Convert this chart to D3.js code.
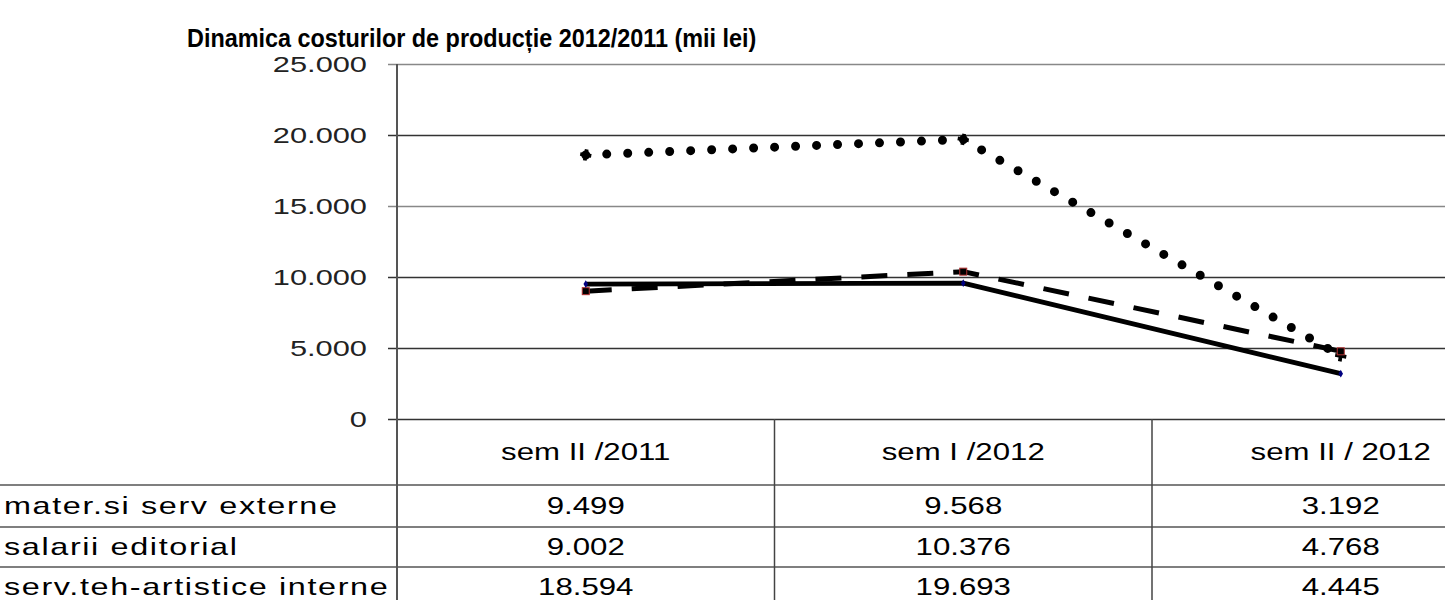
<!DOCTYPE html>
<html>
<head>
<meta charset="utf-8">
<script src="https://cdn.jsdelivr.net/npm/d3@7"></script>
<style>
  body { margin: 0; background: #fff; }
  svg { display: block; font-family: "Liberation Sans", Arial, sans-serif; }
</style>
</head>
<body>
<div id="chart"></div>
<script>
// Date
const categories = ["sem II /2011", "sem I /2012", "sem II / 2012"];
const seriesNames = ["mater.si serv externe", "salarii editorial", "serv.teh-artistice interne"];
const materValues = [9499, 9568, 3192];
const salariiValues = [9002, 10376, 4768];
const servValues = [18594, 19693, 4445];
const yTicks = [0, 5000, 10000, 15000, 20000, 25000];
const titleText = "Dinamica costurilor de producție 2012/2011 (mii lei)";

const series = [
  { name: seriesNames[0], values: materValues, dash: null, width: 4.8, cap: "butt", marker: "diamond" },
  { name: seriesNames[1], values: salariiValues, dash: "26,20", width: 5, cap: "butt", marker: "square" },
  { name: seriesNames[2], values: servValues, dash: "0,21", width: 9, cap: "round", marker: "cross" }
];

// Dimensiuni
const W = 1445, H = 600;
const plotLeft = 397, colW = 377.5;
const plotTop = 64, plotBottom = 419;
const rowLines = [485, 527, 567, 607];

const ro = d3.formatLocale({ decimal: ",", thousands: ".", grouping: [3], currency: ["", ""] });
const fmt = ro.format(",d");

const svg = d3.select("#chart").append("svg")
  .attr("width", W).attr("height", H);

const x = d3.scaleBand()
  .domain(categories)
  .range([plotLeft, plotLeft + colW * categories.length])
  .padding(0);
const cx = c => x(c) + x.bandwidth() / 2;

const y = d3.scaleLinear()
  .domain([0, 25000])
  .range([plotBottom, plotTop]);

// text intins pe orizontala
function label(sel, px, py, s, anchor, size, sx) {
  return sel.append("text")
    .attr("transform", `translate(${px},${py}) scale(${sx},1)`)
    .attr("text-anchor", anchor)
    .attr("dy", "0.35em")
    .style("font-size", size + "px")
    .attr("fill", "#000")
    .text(s);
}

// Titlu
svg.append("text")
  .attr("transform", "translate(187,47) scale(0.9,1)")
  .style("font-size", "26px")
  .style("font-weight", "bold")
  .text(titleText);

// Grila si axa Y
const yAxis = svg.append("g")
  .attr("transform", `translate(${plotLeft},0)`)
  .call(d3.axisLeft(y).tickValues(yTicks).tickSize(W).tickFormat(""));
yAxis.select(".domain").remove();
yAxis.selectAll(".tick line")
  .attr("x1", -9).attr("x2", W)
  .attr("stroke", d => (d === 25000 || d === 15000) ? "#888" : "#333")
  .attr("stroke-width", 1.4);

yTicks.forEach(t => {
  label(svg, 367, y(t), fmt(t), "end", 22, 1.4).attr("fill", "#222");
});

// Axa verticala stanga
svg.append("line")
  .attr("x1", plotLeft).attr("x2", plotLeft)
  .attr("y1", plotTop).attr("y2", H)
  .attr("stroke", "#555").attr("stroke-width", 2);

// Tabel de date
rowLines.forEach(ry => {
  svg.append("line")
    .attr("x1", 0).attr("x2", W)
    .attr("y1", ry).attr("y2", ry)
    .attr("stroke", "#555").attr("stroke-width", 1.5);
});
categories.forEach((c, i) => {
  if (i > 0) {
    svg.append("line")
      .attr("x1", x(c)).attr("x2", x(c))
      .attr("y1", plotBottom).attr("y2", H)
      .attr("stroke", "#444").attr("stroke-width", 1.5);
  }
  label(svg, cx(c), (plotBottom + rowLines[0]) / 2, c, "middle", 24, 1.3);
});
series.forEach((s, si) => {
  const rowMid = (rowLines[si] + rowLines[si + 1]) / 2;
  label(svg, 4, rowMid, s.name, "start", 24, 1.35).style("letter-spacing", "1.2px");
  s.values.forEach((v, i) => {
    label(svg, cx(categories[i]), rowMid, fmt(v), "middle", 24, 1.3);
  });
});

// Linii
const line = d3.line()
  .x((d, i) => cx(categories[i]))
  .y(d => y(d));

series.slice().reverse().forEach(s => {
  svg.append("path")
    .datum(s.values)
    .attr("fill", "none")
    .attr("stroke", "#000")
    .attr("stroke-width", s.width)
    .attr("stroke-linecap", s.cap)
    .attr("stroke-linejoin", "round")
    .attr("stroke-dasharray", s.dash)
    .attr("d", line);

  s.values.forEach((v, i) => {
    const px = cx(categories[i]), py = y(v);
    if (s.marker === "diamond") {
      svg.append("path")
        .attr("d", d3.symbol(d3.symbolDiamond, 18)())
        .attr("transform", `translate(${px},${py})`)
        .attr("fill", "#000080");
    } else if (s.marker === "square") {
      svg.append("rect")
        .attr("x", px - 3.5).attr("y", py - 3.5)
        .attr("width", 7).attr("height", 7)
        .attr("fill", "#000")
        .attr("stroke", "#b03030").attr("stroke-width", 1);
    } else {
      svg.append("path")
        .attr("d", d3.symbol(d3.symbolCross, 70)())
        .attr("transform", `translate(${px},${py}) rotate(10)`)
        .attr("fill", "#000");
    }
  });
});
</script>
</body>
</html>
